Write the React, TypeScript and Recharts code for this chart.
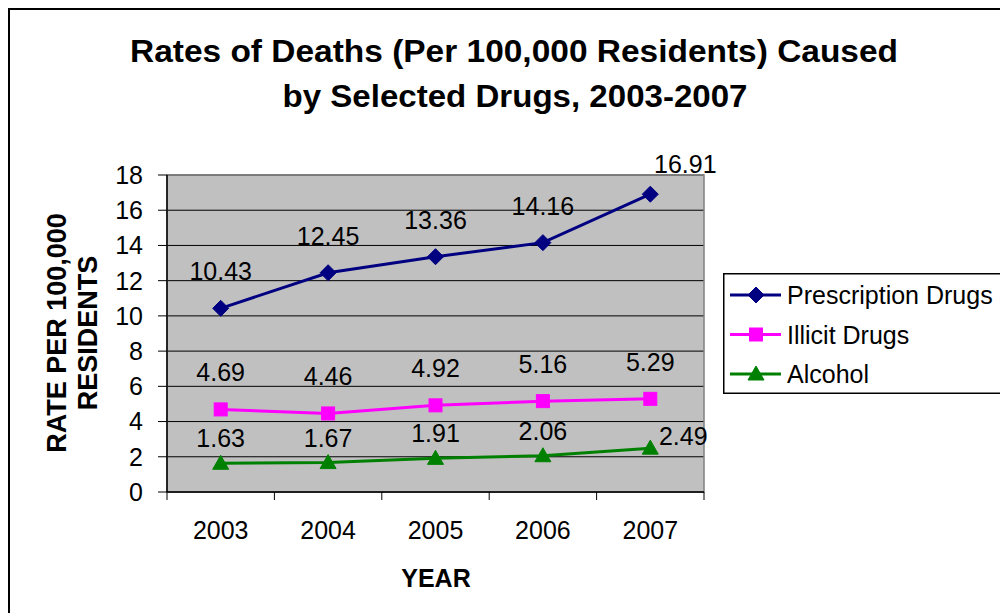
import React from "react";
import {
  LineChart,
  Line,
  XAxis,
  YAxis,
  CartesianGrid,
  LabelList,
  ReferenceArea,
} from "recharts";

const years = ["2003", "2004", "2005", "2006", "2007"];
const prescriptionRates = [10.43, 12.45, 13.36, 14.16, 16.91];
const illicitRates = [4.69, 4.46, 4.92, 5.16, 5.29];
const alcoholRates = [1.63, 1.67, 1.91, 2.06, 2.49];
const yTicks = [0, 2, 4, 6, 8, 10, 12, 14, 16, 18];

const data = years.map((year, i) => ({
  year,
  prescription: prescriptionRates[i],
  illicit: illicitRates[i],
  alcohol: alcoholRates[i],
}));

const FONT = "'Liberation Sans', Arial, sans-serif";

type Shape = "diamond" | "square" | "triangle";

const series: {
  key: string;
  name: string;
  color: string;
  shape: Shape;
  labelDy: number;
  lastDx: number;
  lastDy: number;
}[] = [
  { key: "prescription", name: "Prescription Drugs", color: "#000080", shape: "diamond", labelDy: -37, lastDx: 35, lastDy: -30 },
  { key: "illicit", name: "Illicit Drugs", color: "#FF00FF", shape: "square", labelDy: -37, lastDx: 0, lastDy: -37 },
  { key: "alcohol", name: "Alcohol", color: "#008000", shape: "triangle", labelDy: -25, lastDx: 33, lastDy: -12 },
];

function Marker({ shape, cx, cy, color }: { shape: Shape; cx: number; cy: number; color: string }) {
  if (shape === "diamond") {
    return (
      <polygon
        points={`${cx},${cy - 8} ${cx + 8},${cy} ${cx},${cy + 8} ${cx - 8},${cy}`}
        fill={color}
        stroke={color}
      />
    );
  }
  if (shape === "square") {
    return <rect x={cx - 6.5} y={cy - 6.5} width={13} height={13} fill={color} stroke={color} />;
  }
  return (
    <polygon
      points={`${cx},${cy - 8} ${cx + 8},${cy + 6} ${cx - 8},${cy + 6}`}
      fill={color}
      stroke={color}
    />
  );
}

function YearTick(props: any) {
  const { x, y, payload, index, width, visibleTicksCount } = props;
  const half =
    payload && typeof payload.offset === "number" && payload.offset > 0
      ? payload.offset
      : width / (visibleTicksCount || years.length) / 2;
  const last = index === (visibleTicksCount || years.length) - 1;
  return (
    <g>
      <line x1={x - half} x2={x - half} y1={y} y2={y + 8} stroke="#000" strokeWidth={1} />
      {last && <line x1={x + half} x2={x + half} y1={y} y2={y + 8} stroke="#000" strokeWidth={1} />}
      <text
        x={x}
        y={y + 38}
        textAnchor="middle"
        dominantBaseline="central"
        fontSize={25}
        fontFamily={FONT}
        fill="#000"
      >
        {payload.value}
      </text>
    </g>
  );
}

function LegendBox() {
  const left = 715;
  const top = 265;
  return (
    <g>
      <rect x={left + 0.75} y={top + 0.75} width={400} height={119.5} fill="#fff" stroke="#000" strokeWidth={1.5} />
      {series.map((s, i) => {
        const cy = top + 22 + i * 39.5;
        return (
          <g key={s.key}>
            <line x1={left + 7} x2={left + 58} y1={cy} y2={cy} stroke={s.color} strokeWidth={3} />
            <Marker shape={s.shape} cx={left + 33} cy={cy} color={s.color} />
            <text
              x={left + 64}
              y={cy}
              dominantBaseline="central"
              fontSize={25}
              fontFamily={FONT}
              fill="#000"
            >
              {s.name}
            </text>
          </g>
        );
      })}
    </g>
  );
}

export default function App() {
  return (
    <div style={{ position: "relative", width: 1030, height: 605, overflow: "hidden", background: "#fff" }}>
      <style>{`html,body{overflow:hidden;}`}</style>
      <LineChart
        width={1000}
        height={605}
        data={data}
        margin={{ top: 167, right: 304, bottom: 61, left: 79 }}
      >
        <CartesianGrid vertical={false} stroke="#000" fill="#C0C0C0" fillOpacity={1} />
        <XAxis
          dataKey="year"
          scale="band"
          height={60}
          interval={0}
          tickLine={false}
          axisLine={{ stroke: "#000", strokeWidth: 1.5 }}
          tickSize={0}
          tickMargin={0}
          tick={<YearTick />}
        />
        <YAxis
          width={80}
          domain={[0, 18]}
          ticks={yTicks}
          interval={0}
          axisLine={{ stroke: "#000", strokeWidth: 1.5 }}
          tickLine={{ stroke: "#000", strokeWidth: 1 }}
          tickSize={9}
          tickMargin={15}
          tick={{ fill: "#000", fontSize: 25, fontFamily: FONT }}
        />
        <ReferenceArea
          y1={0}
          y2={18}
          fill="none"
          stroke="#808080"
          strokeWidth={1.5}
          ifOverflow="visible"
        />
        {series.map((s) => (
          <Line
            key={s.key}
            dataKey={s.key}
            name={s.name}
            stroke={s.color}
            strokeWidth={3}
            isAnimationActive={false}
            dot={(p: any) => (
              <Marker key={`${s.key}-${p.index}`} shape={s.shape} cx={p.cx} cy={p.cy} color={s.color} />
            )}
            activeDot={false}
          >
            <LabelList
              dataKey={s.key}
              content={(p: any) => {
                const last = p.index === years.length - 1;
                return (
                  <text
                    x={p.x + (last ? s.lastDx : 0)}
                    y={p.y + (last ? s.lastDy : s.labelDy)}
                    textAnchor="middle"
                    dominantBaseline="central"
                    fontSize={25}
                    fontFamily={FONT}
                    fill="#000"
                  >
                    {p.value}
                  </text>
                );
              }}
            />
          </Line>
        ))}
      </LineChart>
      <svg
        width={1030}
        height={605}
        style={{ position: "absolute", left: 0, top: 0, pointerEvents: "none" }}
      >
        <LegendBox />
        <line x1={0} y1={1} x2={1030} y2={1} stroke="#000" strokeWidth={2} />
        <line x1={1} y1={0} x2={1} y2={605} stroke="#000" strokeWidth={2} />
        <text
          x={506}
          y={54}
          textAnchor="middle"
          fontSize={31}
          fontWeight="bold"
          fontFamily={FONT}
          textLength={768}
          lengthAdjust="spacingAndGlyphs"
        >
          Rates of Deaths (Per 100,000 Residents) Caused
        </text>
        <text
          x={507}
          y={99}
          textAnchor="middle"
          fontSize={31}
          fontWeight="bold"
          fontFamily={FONT}
          textLength={465}
          lengthAdjust="spacingAndGlyphs"
        >
          by Selected Drugs, 2003-2007
        </text>
        <g transform="translate(49,325) rotate(-90)">
          <text
            x={0}
            y={0}
            textAnchor="middle"
            dominantBaseline="central"
            fontSize={27}
            fontWeight="bold"
            fontFamily={FONT}
          >
            RATE PER 100,000
          </text>
        </g>
        <g transform="translate(80,325) rotate(-90)">
          <text
            x={0}
            y={0}
            textAnchor="middle"
            dominantBaseline="central"
            fontSize={27}
            fontWeight="bold"
            fontFamily={FONT}
          >
            RESIDENTS
          </text>
        </g>
        <text
          x={428}
          y={570}
          textAnchor="middle"
          dominantBaseline="central"
          fontSize={25}
          fontWeight="bold"
          fontFamily={FONT}
        >
          YEAR
        </text>
      </svg>
    </div>
  );
}
